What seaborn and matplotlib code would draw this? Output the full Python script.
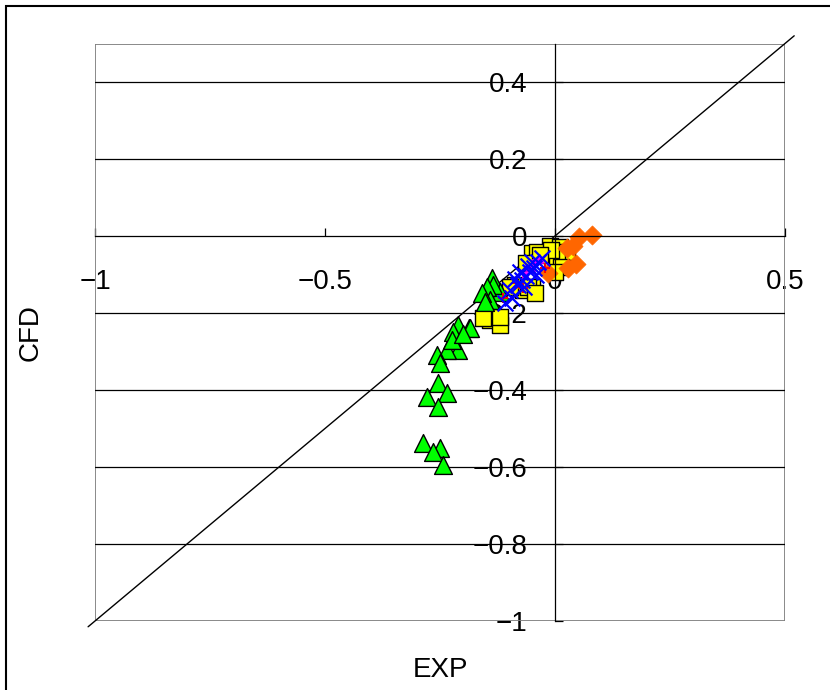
import numpy as np
import pandas as pd
import matplotlib
matplotlib.use("Agg")
import matplotlib.pyplot as plt
from matplotlib.patches import Rectangle
from matplotlib.ticker import FuncFormatter
import seaborn as sns

sns.set_style("white")
plt.rcParams['font.family'] = ['Liberation Sans', 'DejaVu Sans']
plt.rcParams['text.color'] = "black"
plt.rcParams['axes.labelcolor'] = "black"
plt.rcParams['xtick.color'] = "black"
plt.rcParams['ytick.color'] = "black"

# values (EXP vs CFD)
orange_x = [0.080, 0.053, 0.040, 0.025, 0.046, 0.029, -0.015]
orange_y = [0.003, -0.002, -0.026, -0.032, -0.073, -0.084, -0.097]

yellow_x = [-0.011, 0.011, 0.025, 0.004, 0.014, 0.000, -0.051, -0.040, -0.062, -0.051,
            -0.069, -0.087, -0.098, -0.141, -0.120, -0.156, -0.120, -0.008, -0.033, -0.059, -0.043]
yellow_y = [-0.026, -0.028, -0.041, -0.054, -0.080, -0.093, -0.045, -0.041, -0.071, -0.132,
            -0.140, -0.127, -0.132, -0.218, -0.231, -0.214, -0.210, -0.036, -0.050, -0.132, -0.149]

green_x = [-0.138, -0.120, -0.134, -0.148, -0.141, -0.159, -0.152, -0.188, -0.210, -0.221,
           -0.185, -0.210, -0.235, -0.257, -0.250, -0.254, -0.235, -0.279, -0.254, -0.286,
           -0.250, -0.265, -0.243, -0.224, -0.200]
green_y = [-0.110, -0.145, -0.127, -0.132, -0.166, -0.149, -0.171, -0.240, -0.231, -0.249,
           -0.240, -0.296, -0.296, -0.309, -0.331, -0.383, -0.409, -0.417, -0.443, -0.538,
           -0.551, -0.560, -0.595, -0.270, -0.255]

blue_x = [-0.109, -0.093, -0.098, -0.080, -0.072, -0.063, -0.054, -0.046, -0.037, -0.028,
          -0.059, -0.076, -0.050, -0.087, -0.041, -0.067]
blue_y = [-0.174, -0.161, -0.140, -0.127, -0.114, -0.104, -0.094, -0.083, -0.068, -0.057,
          -0.078, -0.094, -0.068, -0.112, -0.101, -0.132]

magenta_x = [-0.059, -0.043, -0.033, -0.050, -0.065]
magenta_y = [-0.083, -0.068, -0.062, -0.088, -0.101]

red_x = [-0.113, -0.083, -0.022, -0.070]
red_y = [-0.161, -0.122, -0.083, -0.135]

x_ticks = [-1, -0.5, 0, 0.5]
y_ticks = [-1, -0.8, -0.6, -0.4, -0.2, 0, 0.2, 0.4]
grid_y = [-0.8, -0.6, -0.4, -0.2, 0.2, 0.4]

fig = plt.figure(figsize=(8.3, 6.9), dpi=100)
ax = fig.add_axes([95 / 830, 1 - 621 / 690, 690 / 830, 577.5 / 690])

# outer chart border
fig.patches.append(Rectangle((6 / 830, -0.1), 1.2, 1.1 - 6 / 690, transform=fig.transFigure,
                             fill=False, edgecolor="black", linewidth=1.5))

# plot area frame + horizontal gridlines
ax.add_patch(Rectangle((0, 0), 1, 1, transform=ax.transAxes, fill=False,
                       edgecolor="#808080", linewidth=1.3, zorder=0.6))
for g in grid_y:
    ax.axhline(g, color="black", linewidth=0.9, zorder=0.7)

# y = x reference line
ax.plot([-1.015, 0.52], [-1.015, 0.52], color="black", linewidth=1.0, zorder=1.5, clip_on=False)

kw = dict(ax=ax, legend=False, zorder=2)
sns.scatterplot(data=pd.DataFrame({"EXP": yellow_x, "CFD": yellow_y}), x="EXP", y="CFD",
                marker="s", s=135, color="#ffff00", edgecolor="black", linewidth=1.0, **kw)
sns.scatterplot(data=pd.DataFrame({"EXP": orange_x, "CFD": orange_y}), x="EXP", y="CFD",
                marker="D", s=95, color="#ff6600", edgecolor="#ff6600", linewidth=0.5, **kw)
sns.scatterplot(data=pd.DataFrame({"EXP": green_x, "CFD": green_y}), x="EXP", y="CFD",
                marker="^", s=165, color="#00ff00", edgecolor="black", linewidth=1.0, **kw)
sns.scatterplot(data=pd.DataFrame({"EXP": red_x, "CFD": red_y}), x="EXP", y="CFD",
                marker="+", s=45, color="#ff0000", linewidth=1.5, **kw)
sns.scatterplot(data=pd.DataFrame({"EXP": magenta_x, "CFD": magenta_y}), x="EXP", y="CFD",
                marker="s", s=15, color="#ff00ff", edgecolor="#ff00ff", linewidth=0.5, **kw)
sns.scatterplot(data=pd.DataFrame({"EXP": blue_x, "CFD": blue_y}), x="EXP", y="CFD",
                marker="x", s=130, color="#0000ff", linewidth=1.6, **kw)

ax.set_xlim(-1, 0.5)
ax.set_ylim(-1, 0.5)

# axes crossing at the origin
for side in ["top", "right"]:
    ax.spines[side].set_visible(False)
ax.spines["left"].set_position(("data", 0))
ax.spines["bottom"].set_position(("data", 0))
ax.spines["left"].set_color("black")
ax.spines["bottom"].set_color("black")
ax.spines["left"].set_linewidth(0.9)
ax.spines["bottom"].set_linewidth(0.9)

fmt = FuncFormatter(lambda v, p: f"{v:g}".replace("-", "\u2212"))
ax.set_xticks(x_ticks)
ax.set_yticks(y_ticks)
ax.xaxis.set_major_formatter(fmt)
ax.yaxis.set_major_formatter(fmt)
ax.tick_params(axis="x", direction="in", length=6, width=0.9, color="black",
               labelsize=20, labelcolor="black", pad=24, bottom=True)
ax.tick_params(axis="y", direction="in", length=6, width=0.9, color="black",
               labelsize=20, labelcolor="black", pad=20, left=True)

ax.set_xlabel("EXP", fontsize=20, color="black")
ax.set_ylabel("CFD", fontsize=20, color="black")
ax.xaxis.set_label_coords(0.5, -0.085)
ax.xaxis.label.set_va("center")
ax.yaxis.set_label_coords(-0.094, 0.5)
ax.yaxis.label.set_va("center")

fig.savefig("out.png", dpi=100)
